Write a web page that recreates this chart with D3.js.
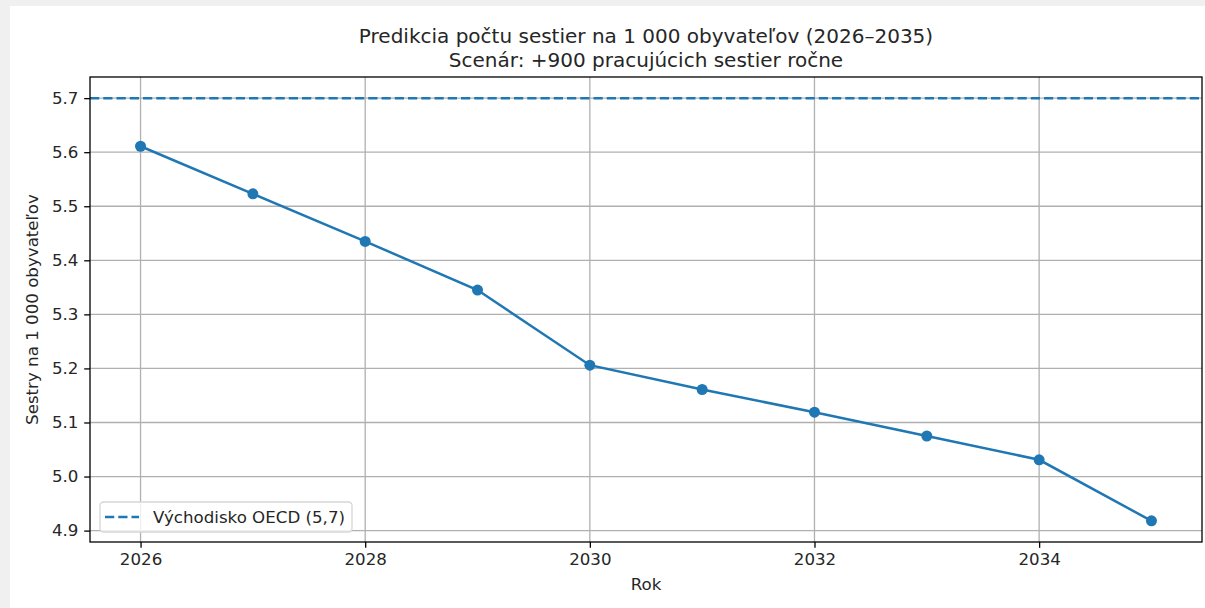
<!DOCTYPE html>
<html>
<head>
<meta charset="utf-8">
<script src="https://cdn.jsdelivr.net/npm/d3@7"></script>
<style>
  body { margin: 0; background: #f0f0f0; }
  #chart { position: absolute; left: 10px; top: 6px; }
  text { font-family: "DejaVu Sans", sans-serif; fill: #262626; }
</style>
</head>
<body>
<div id="chart"></div>
<script>
// data
const years = [2026, 2027, 2028, 2029, 2030, 2031, 2032, 2033, 2034, 2035];
const nursesPer1000 = [5.611, 5.523, 5.435, 5.345, 5.206, 5.161, 5.119, 5.075, 5.031, 4.918];
const oecdBaseline = 5.7;
const xTicks = [2026, 2028, 2030, 2032, 2034];
const yTicks = [4.9, 5.0, 5.1, 5.2, 5.3, 5.4, 5.5, 5.6, 5.7];

const titleLines = ["Predikcia počtu sestier na 1 000 obyvateľov (2026–2035)", "Scenár: +900 pracujúcich sestier ročne"];
const xLabel = "Rok";
const yLabel = "Sestry na 1 000 obyvateľov";
const legendLabel = "Východisko OECD (5,7)";

const blue = "#1f77b4";

// figure area (white), offset by the page margin
let W = 1195, H = 602;
let margin = {top: 71, right: 3, bottom: 66, left: 80};
let width = W - margin.left - margin.right;
let height = H - margin.top - margin.bottom;

let svg = d3.select("#chart").append("svg")
    .attr("width", W)
    .attr("height", H)
    .style("background", "white");

let g = svg.append("g")
    .attr("transform", `translate(${margin.left}, ${margin.top})`);

// matplotlib-style 5% padding on both axes
let xPad = (d3.max(years) - d3.min(years)) * 0.05;
let x = d3.scaleLinear()
    .domain([d3.min(years) - xPad, d3.max(years) + xPad])
    .range([0, width]);

let yMin = d3.min(nursesPer1000), yMax = Math.max(d3.max(nursesPer1000), oecdBaseline);
let yPad = (yMax - yMin) * 0.05;
let y = d3.scaleLinear()
    .domain([yMin - yPad, yMax + yPad])
    .range([height, 0]);

// grid
g.append("g").selectAll("line")
    .data(xTicks).enter().append("line")
    .attr("x1", d => x(d)).attr("x2", d => x(d))
    .attr("y1", 0).attr("y2", height)
    .attr("stroke", "#b0b0b0").attr("stroke-width", 1.3);

g.append("g").selectAll("line")
    .data(yTicks).enter().append("line")
    .attr("x1", 0).attr("x2", width)
    .attr("y1", d => y(d)).attr("y2", d => y(d))
    .attr("stroke", "#b0b0b0").attr("stroke-width", 1.3);

// axes
let xAxis = d3.axisBottom(x)
    .tickValues(xTicks)
    .tickFormat(d3.format("d"))
    .tickSize(5.8)
    .tickPadding(5.8);

let yAxis = d3.axisLeft(y)
    .tickValues(yTicks)
    .tickFormat(d3.format(".1f"))
    .tickSize(5.8)
    .tickPadding(5.8);

let gx = g.append("g")
    .attr("transform", `translate(0, ${height})`)
    .call(xAxis);
let gy = g.append("g").call(yAxis);

[gx, gy].forEach(a => {
    a.select(".domain").remove();
    a.selectAll(".tick line").attr("stroke", "#000").attr("stroke-width", 1.3);
    a.selectAll(".tick text")
        .attr("font-family", "DejaVu Sans")
        .attr("font-size", "16.67px")
        .attr("fill", "#262626");
});

// baseline OECD
g.append("line")
    .attr("x1", 0).attr("x2", width)
    .attr("y1", y(oecdBaseline)).attr("y2", y(oecdBaseline))
    .attr("stroke", blue).attr("stroke-width", 2.5)
    .attr("stroke-dasharray", "9.25 4");

// prediction line
let line = d3.line()
    .x((d, i) => x(years[i]))
    .y(d => y(d));

g.append("path")
    .datum(nursesPer1000)
    .attr("d", line)
    .attr("fill", "none")
    .attr("stroke", blue)
    .attr("stroke-width", 2.5);

g.append("g").selectAll("circle")
    .data(nursesPer1000).enter().append("circle")
    .attr("cx", (d, i) => x(years[i]))
    .attr("cy", d => y(d))
    .attr("r", 5.5)
    .attr("fill", blue);

// frame
g.append("rect")
    .attr("width", width).attr("height", height)
    .attr("fill", "none")
    .attr("stroke", "#000").attr("stroke-width", 1.3);

// legend
let legend = g.append("g")
    .attr("transform", `translate(10, ${height - 40})`);
legend.append("rect")
    .attr("width", 252).attr("height", 30)
    .attr("rx", 3.5)
    .attr("fill", "white").attr("fill-opacity", 0.8)
    .attr("stroke", "#d6d6d6").attr("stroke-width", 1.3);
legend.append("line")
    .attr("x1", 5).attr("x2", 39)
    .attr("y1", 15).attr("y2", 15)
    .attr("stroke", blue).attr("stroke-width", 2.5)
    .attr("stroke-dasharray", "9.25 4");
legend.append("text")
    .attr("x", 53).attr("y", 21)
    .attr("font-size", "16.67px")
    .text(legendLabel);

// titles and labels
svg.append("g").selectAll("text")
    .data(titleLines).enter().append("text")
    .attr("x", margin.left + width / 2)
    .attr("y", (d, i) => 37 + i * 24)
    .attr("text-anchor", "middle")
    .attr("font-size", "20px")
    .text(d => d);

svg.append("text")
    .attr("x", margin.left + width / 2)
    .attr("y", 584)
    .attr("text-anchor", "middle")
    .attr("font-size", "16.67px")
    .text(xLabel);

svg.append("text")
    .attr("transform", `translate(28, ${margin.top + height / 2}) rotate(-90)`)
    .attr("text-anchor", "middle")
    .attr("font-size", "16.67px")
    .text(yLabel);
</script>
</body>
</html>
